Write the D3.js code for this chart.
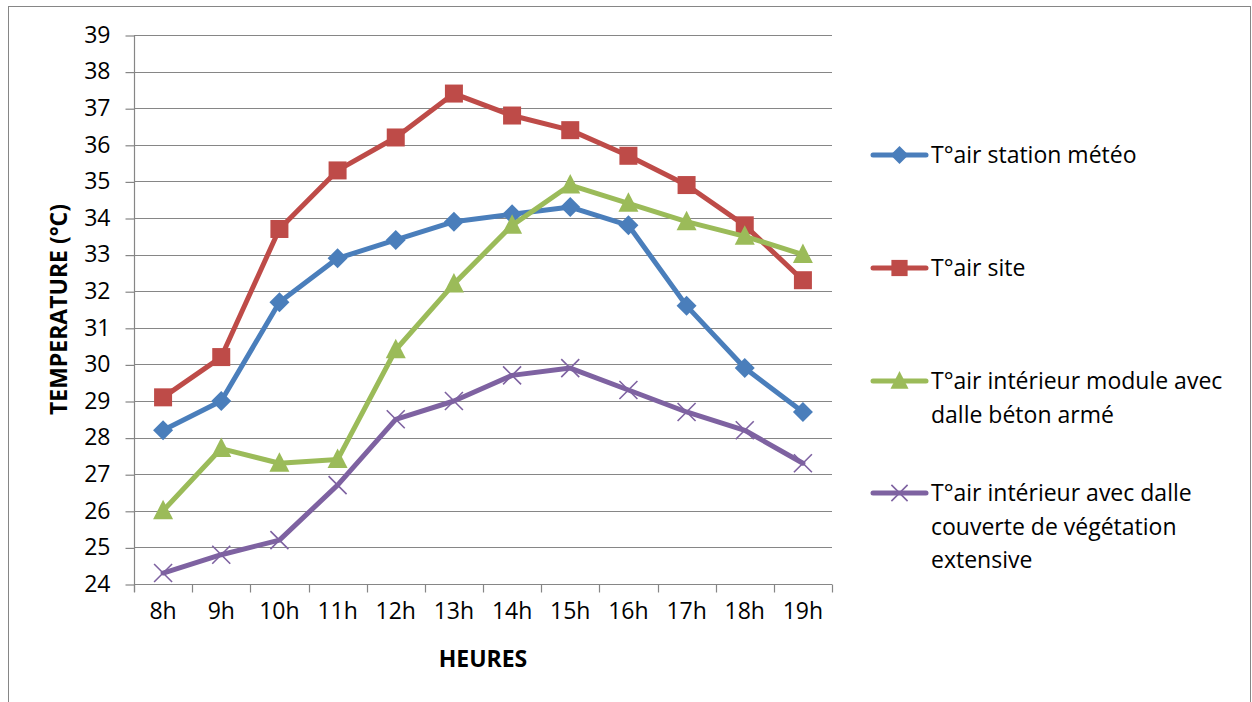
<!DOCTYPE html>
<html>
<head>
<meta charset="utf-8">
<script src="https://cdn.jsdelivr.net/npm/d3@7"></script>
<style>
  html, body { margin: 0; padding: 0; background: #fff; }
  svg { display: block; }
  text { font-family: "Open Sans", "Noto Sans", sans-serif; fill: #000; }
</style>
</head>
<body>
<svg id="chart" width="1252" height="702"></svg>
<script>
// Hours of the day (category axis)
const hours = ["8h", "9h", "10h", "11h", "12h", "13h", "14h", "15h", "16h", "17h", "18h", "19h"];

// Air temperatures (°C)
const stationMeteo = [28.2, 29.0, 31.7, 32.9, 33.4, 33.9, 34.1, 34.3, 33.8, 31.6, 29.9, 28.7];
const site = [29.1, 30.2, 33.7, 35.3, 36.2, 37.4, 36.8, 36.4, 35.7, 34.9, 33.8, 32.3];
const dalleBeton = [26.0, 27.7, 27.3, 27.4, 30.4, 32.2, 33.8, 34.9, 34.4, 33.9, 33.5, 33.0];
const dalleVegetation = [24.3, 24.8, 25.2, 26.7, 28.5, 29.0, 29.7, 29.9, 29.3, 28.7, 28.2, 27.3];

// Value axis ticks
const yTicks = [24, 25, 26, 27, 28, 29, 30, 31, 32, 33, 34, 35, 36, 37, 38, 39];

const seriesNames = [
  ["T°air station météo"],
  ["T°air site"],
  ["T°air intérieur module avec", "dalle béton armé"],
  ["T°air intérieur avec dalle", "couverte de végétation", "extensive"]
];

const series = [
  { values: stationMeteo, color: "#4A7EBB", marker: "diamond" },
  { values: site, color: "#BE4B48", marker: "square" },
  { values: dalleBeton, color: "#9BBB59", marker: "triangle" },
  { values: dalleVegetation, color: "#7E62A1", marker: "cross" }
];

const svg = d3.select("#chart");
const gridColor = "#868686";
const fontSize = 23;

// Chart frame
svg.append("rect")
  .attr("x", 8.5).attr("y", 6.5)
  .attr("width", 1242).attr("height", 720)
  .attr("fill", "none").attr("stroke", gridColor).attr("stroke-width", 1);

const plot = { left: 134, right: 832, top: 35, bottom: 584 };

const x = d3.scaleBand().domain(hours).range([plot.left, plot.right]);
const y = d3.scaleLinear().domain([24, 39]).range([plot.bottom, plot.top]);
const cx = d => x(d) + x.bandwidth() / 2;

// Horizontal gridlines
svg.append("g")
  .selectAll("line")
  .data(yTicks)
  .join("line")
  .attr("x1", plot.left).attr("x2", plot.right)
  .attr("y1", d => Math.round(y(d)) + 0.5).attr("y2", d => Math.round(y(d)) + 0.5)
  .attr("stroke", gridColor).attr("stroke-width", 1.2);

// Value axis
const yAxis = svg.append("g")
  .attr("transform", `translate(${plot.left + 0.5},0)`)
  .call(d3.axisLeft(y).tickValues(yTicks).tickSize(9).tickPadding(15).tickSizeOuter(0));
yAxis.select(".domain").remove();
yAxis.append("line")
  .attr("x1", 0).attr("x2", 0)
  .attr("y1", plot.top).attr("y2", plot.bottom + 8)
  .attr("stroke", gridColor).attr("stroke-width", 1.2);
yAxis.selectAll(".tick line").attr("stroke", gridColor).attr("stroke-width", 1.2)
  .attr("transform", "translate(0,0.5)");
yAxis.selectAll(".tick text")
  .attr("font-size", fontSize).attr("fill", "#000")
  .attr("font-family", "'Open Sans', sans-serif");

// Category axis
const xAxis = svg.append("g")
  .attr("transform", `translate(0,${plot.bottom + 0.5})`)
  .call(d3.axisBottom(x).tickSize(0).tickPadding(18));
xAxis.select(".domain").remove();
xAxis.selectAll(".tick text")
  .attr("font-size", fontSize).attr("fill", "#000")
  .attr("font-family", "'Open Sans', sans-serif");
// boundary tick marks between categories
const bounds = hours.map(h => x(h)).concat([plot.right]);
xAxis.selectAll(".bound")
  .data(bounds)
  .join("line")
  .attr("class", "bound")
  .attr("x1", d => Math.round(d) + 0.5).attr("x2", d => Math.round(d) + 0.5)
  .attr("y1", 0).attr("y2", 8)
  .attr("stroke", gridColor).attr("stroke-width", 1.2);

// Axis titles
svg.append("text")
  .attr("transform", `translate(67,${(plot.top + plot.bottom) / 2}) rotate(-90)`)
  .attr("text-anchor", "middle")
  .attr("font-size", fontSize).attr("font-weight", "bold")
  .text("TEMPERATURE (°C)");

svg.append("text")
  .attr("x", (plot.left + plot.right) / 2).attr("y", 667)
  .attr("text-anchor", "middle")
  .attr("font-size", fontSize).attr("font-weight", "bold")
  .text("HEURES");

// Marker shapes
function drawMarker(g, type, color, px, py, k = 1) {
  if (type === "diamond") {
    const r = 10 * k;
    g.append("path")
      .attr("d", `M${px},${py - r}L${px + r},${py}L${px},${py + r}L${px - r},${py}Z`)
      .attr("fill", color);
  } else if (type === "square") {
    const r = 9 * k;
    g.append("rect")
      .attr("x", px - r).attr("y", py - r).attr("width", 2 * r).attr("height", 2 * r)
      .attr("fill", color);
  } else if (type === "triangle") {
    const r = 10 * k;
    g.append("path")
      .attr("d", `M${px},${py - r * 1.1}L${px + r},${py + r * 0.85}L${px - r},${py + r * 0.85}Z`)
      .attr("fill", color);
  } else if (type === "cross") {
    const r = 9 * k;
    g.append("path")
      .attr("d", `M${px - r},${py - r}L${px + r},${py + r}M${px - r},${py + r}L${px + r},${py - r}`)
      .attr("stroke", color).attr("stroke-width", 1.6).attr("fill", "none");
  }
}

const line = d3.line().x(d => cx(d.h)).y(d => y(d.v));

series.forEach(s => {
  const pts = hours.map((h, i) => ({ h, v: s.values[i] }));
  const g = svg.append("g");
  g.append("path")
    .datum(pts)
    .attr("d", line)
    .attr("fill", "none")
    .attr("stroke", s.color)
    .attr("stroke-width", 5)
    .attr("stroke-linejoin", "round")
    .attr("stroke-linecap", "round");
  pts.forEach(p => drawMarker(g, s.marker, s.color, cx(p.h), y(p.v)));
});

// Legend
const legendRows = [155, 268, 381, 493];
const lineGap = 33.5;
series.forEach((s, i) => {
  const g = svg.append("g");
  const ly = legendRows[i];
  g.append("line")
    .attr("x1", 873).attr("x2", 926)
    .attr("y1", ly).attr("y2", ly)
    .attr("stroke", s.color).attr("stroke-width", 5)
    .attr("stroke-linecap", "round");
  drawMarker(g, s.marker, s.color, 899.5, ly, 0.9);
  seriesNames[i].forEach((t, j) => {
    g.append("text")
      .attr("x", 931).attr("y", ly + j * lineGap)
      .attr("dy", "0.35em")
      .attr("font-size", fontSize)
      .text(t);
  });
});
</script>
</body>
</html>
